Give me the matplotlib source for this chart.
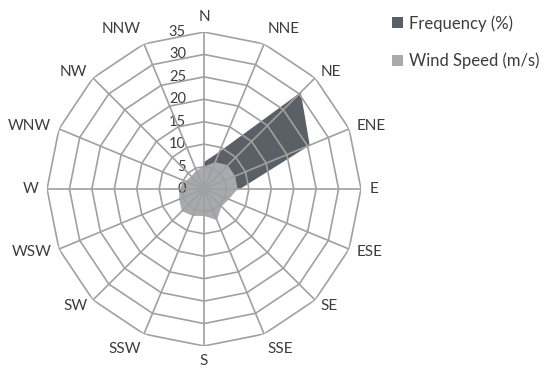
import numpy as np
import matplotlib
matplotlib.use("Agg")
import matplotlib.pyplot as plt

plt.rcParams['font.family'] = ['Lato', 'DejaVu Sans']

# 16 compass directions, clockwise from north
directions = ['N', 'NNE', 'NE', 'ENE', 'E', 'ESE', 'SE', 'SSE',
              'S', 'SSW', 'SW', 'WSW', 'W', 'WNW', 'NW', 'NNW']
frequency = [6, 9, 30.5, 25.5, 8, 2, 2, 2.5, 2, 2, 2, 2, 1.5, 1.5, 1, 1.5]
wind_speed = [5, 6.5, 7.5, 7.5, 7.5, 6, 5.5, 7.5, 6, 6.5, 7, 6, 5.5, 4.5, 4, 4.5]
rings = [0, 5, 10, 15, 20, 25, 30, 35]

text_col = '#3c3c3c'
grid_col = '#a0a0a0'
dark_col = '#5b6066'
light_col = '#a7aaaf'

n = len(directions)
theta = np.arange(n) * 2 * np.pi / n
theta_c = np.append(theta, theta[0])

fig = plt.figure(figsize=(5.5, 3.84), dpi=100)
ax = fig.add_axes([0.0855, 0.099, 0.5709, 0.8177], projection='polar')
ax.set_theta_zero_location('N')
ax.set_theta_direction(-1)
ax.set_ylim(0, rings[-1])
ax.set_xticks([])
ax.set_yticks([])
ax.grid(False)
ax.spines['polar'].set_visible(False)
ax.patch.set_alpha(0)

f1 = ax.fill(theta_c, np.append(frequency, frequency[0]), color=dark_col, lw=0, zorder=2)[0]
f2 = ax.fill(theta_c, np.append(wind_speed, wind_speed[0]), color=light_col, lw=0, zorder=3)[0]

# polygon grid
for r in rings[1:]:
    ax.plot(theta_c, [r] * (n + 1), color=grid_col, lw=1.2, zorder=4)
for t in theta:
    ax.plot([t, t], [0, rings[-1]], color=grid_col, lw=1.2, zorder=4)

# radial tick labels along the north spoke
for r in rings:
    ax.annotate(str(r), xy=(0, r), xytext=(-13, 0), textcoords='offset points',
                ha='right', va='center', fontsize=10.5, color=text_col)

# direction labels
for t, d in zip(theta, directions):
    s, c = np.sin(t), np.cos(t)
    ha = 'left' if s > 0.3 else ('right' if s < -0.3 else 'center')
    va = 'bottom' if c > 0.9 else ('top' if c < -0.9 else 'center')
    ax.annotate(d, xy=(t, rings[-1]), xytext=(6 * s, 6 * c), textcoords='offset points',
                ha=ha, va=va, fontsize=11, color=text_col)

fig.legend([f1, f2], ['Frequency (%)', 'Wind Speed (m/s)'], loc='upper left',
           bbox_to_anchor=(392 / 550, 1 - 15 / 384), frameon=False, fontsize=12,
           handlelength=0.65, handleheight=0.65, handletextpad=0.35,
           borderpad=0, borderaxespad=0, labelspacing=1.25, labelcolor=text_col)

fig.savefig('out.png', dpi=100)
